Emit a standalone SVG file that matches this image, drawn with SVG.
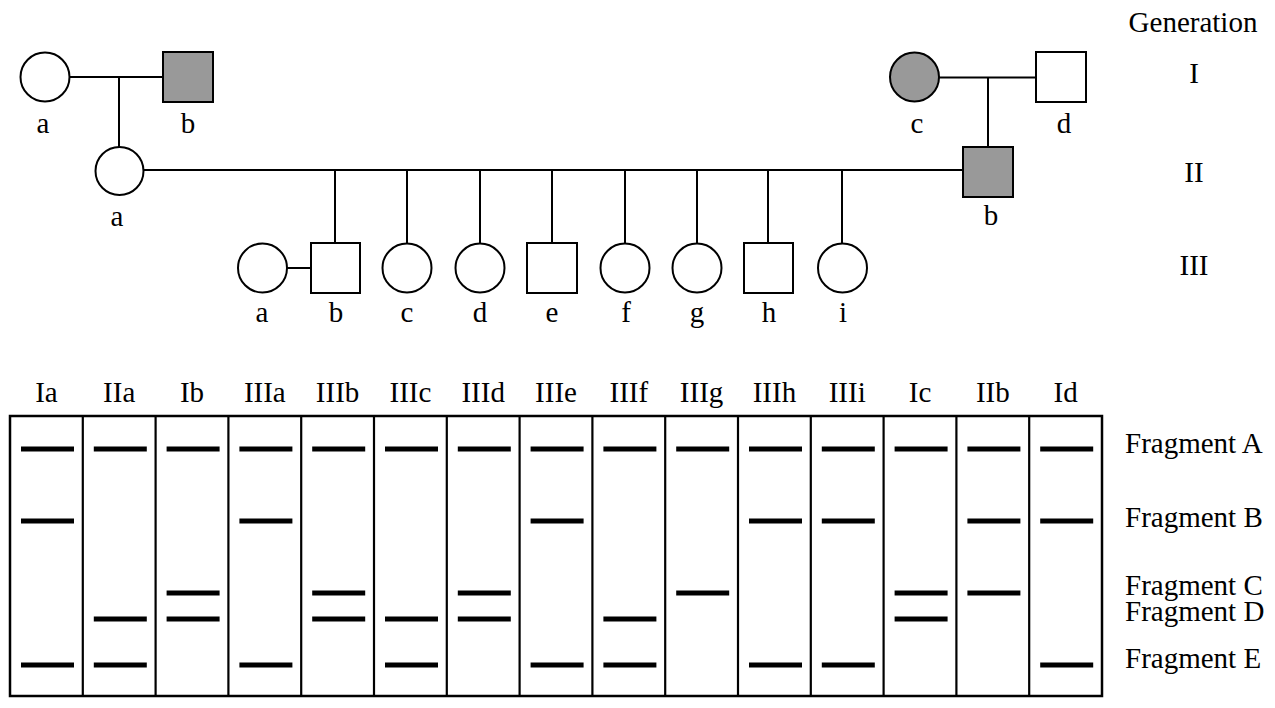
<svg xmlns="http://www.w3.org/2000/svg" width="1275" height="708" viewBox="0 0 1275 708">
<style>
text{font-family:"Liberation Serif","Times New Roman",serif;font-size:29px;fill:#000;text-anchor:middle}
.lbl{text-anchor:start}
.ind{stroke:#000;stroke-width:2;fill:#fff}
.aff{fill:#999}
.con line{stroke:#000;stroke-width:2}
.gel{fill:none;stroke:#000;stroke-width:2.5}
.div{stroke:#000;stroke-width:2.2}
.band{stroke:#000;stroke-width:5}
</style>
<rect width="1275" height="708" fill="#fff"/>
<g class="con" id="connectors">
<line x1="69" y1="77" x2="163" y2="77"/>
<line x1="119" y1="77" x2="119" y2="147"/>
<line x1="939" y1="77.5" x2="1036" y2="77.5"/>
<line x1="988" y1="77.5" x2="988" y2="147"/>
<line x1="143" y1="170" x2="963" y2="170"/>
<line x1="335" y1="170" x2="335" y2="243"/>
<line x1="407" y1="170" x2="407" y2="243"/>
<line x1="480" y1="170" x2="480" y2="243"/>
<line x1="552" y1="170" x2="552" y2="243"/>
<line x1="625" y1="170" x2="625" y2="243"/>
<line x1="697" y1="170" x2="697" y2="243"/>
<line x1="768" y1="170" x2="768" y2="243"/>
<line x1="842" y1="170" x2="842" y2="243"/>
<line x1="287" y1="268" x2="311" y2="268"/>
</g>
<g id="Ia"><circle class="ind" cx="45" cy="77" r="24.5"/><text x="43" y="133">a</text></g>
<g id="Ib"><rect class="ind aff" x="163" y="52" width="50" height="50"/><text x="188" y="133">b</text></g>
<g id="Ic"><circle class="ind aff" cx="914.5" cy="77" r="24.5"/><text x="917" y="133">c</text></g>
<g id="Id"><rect class="ind" x="1036" y="52" width="50" height="50"/><text x="1064" y="133">d</text></g>
<g id="IIa"><circle class="ind" cx="119.5" cy="171" r="24"/><text x="117" y="226">a</text></g>
<g id="IIb"><rect class="ind aff" x="963" y="147" width="50" height="50"/><text x="991" y="225">b</text></g>
<g id="IIIa"><circle class="ind" cx="262.5" cy="268" r="24.5"/><text x="262" y="322">a</text></g>
<g id="IIIb"><rect class="ind" x="311" y="243" width="49" height="50"/><text x="336" y="322">b</text></g>
<g id="IIIc"><circle class="ind" cx="407" cy="268" r="24.5"/><text x="407" y="322">c</text></g>
<g id="IIId"><circle class="ind" cx="480" cy="268" r="24.5"/><text x="480" y="322">d</text></g>
<g id="IIIe"><rect class="ind" x="527" y="243" width="50" height="50"/><text x="552" y="322">e</text></g>
<g id="IIIf"><circle class="ind" cx="625" cy="268" r="24.5"/><text x="626" y="322">f</text></g>
<g id="IIIg"><circle class="ind" cx="697" cy="268" r="24.5"/><text x="697" y="322">g</text></g>
<g id="IIIh"><rect class="ind" x="744" y="243" width="49" height="50"/><text x="769" y="322">h</text></g>
<g id="IIIi"><circle class="ind" cx="842.5" cy="268" r="24.5"/><text x="843" y="322">i</text></g>
<g id="generations">
<text x="1193" y="32">Generation</text>
<text x="1194" y="83">I</text>
<text x="1194" y="182">II</text>
<text x="1194" y="275">III</text>
</g>
<g id="lane-labels">
<text x="46.4" y="402">Ia</text>
<text x="119.2" y="402">IIa</text>
<text x="192" y="402">Ib</text>
<text x="264.8" y="402">IIIa</text>
<text x="337.6" y="402">IIIb</text>
<text x="410.4" y="402">IIIc</text>
<text x="483.2" y="402">IIId</text>
<text x="556" y="402">IIIe</text>
<text x="628.8" y="402">IIIf</text>
<text x="701.6" y="402">IIIg</text>
<text x="774.4" y="402">IIIh</text>
<text x="847.2" y="402">IIIi</text>
<text x="920" y="402">Ic</text>
<text x="992.8" y="402">IIb</text>
<text x="1065.6" y="402">Id</text>
</g>
<g id="gel">
<rect class="gel" x="10" y="416" width="1092" height="280"/>
<g class="div">
<line x1="82.8" y1="416" x2="82.8" y2="696"/>
<line x1="155.6" y1="416" x2="155.6" y2="696"/>
<line x1="228.4" y1="416" x2="228.4" y2="696"/>
<line x1="301.2" y1="416" x2="301.2" y2="696"/>
<line x1="374" y1="416" x2="374" y2="696"/>
<line x1="446.8" y1="416" x2="446.8" y2="696"/>
<line x1="519.6" y1="416" x2="519.6" y2="696"/>
<line x1="592.4" y1="416" x2="592.4" y2="696"/>
<line x1="665.2" y1="416" x2="665.2" y2="696"/>
<line x1="738" y1="416" x2="738" y2="696"/>
<line x1="810.8" y1="416" x2="810.8" y2="696"/>
<line x1="883.6" y1="416" x2="883.6" y2="696"/>
<line x1="956.4" y1="416" x2="956.4" y2="696"/>
<line x1="1029.2" y1="416" x2="1029.2" y2="696"/>
</g>
<g class="band" id="bandsA">
<line x1="21" y1="449" x2="74" y2="449"/>
<line x1="93.8" y1="449" x2="146.8" y2="449"/>
<line x1="166.6" y1="449" x2="219.6" y2="449"/>
<line x1="239.4" y1="449" x2="292.4" y2="449"/>
<line x1="312.2" y1="449" x2="365.2" y2="449"/>
<line x1="385" y1="449" x2="438" y2="449"/>
<line x1="457.8" y1="449" x2="510.8" y2="449"/>
<line x1="530.6" y1="449" x2="583.6" y2="449"/>
<line x1="603.4" y1="449" x2="656.4" y2="449"/>
<line x1="676.2" y1="449" x2="729.2" y2="449"/>
<line x1="749" y1="449" x2="802" y2="449"/>
<line x1="821.8" y1="449" x2="874.8" y2="449"/>
<line x1="894.6" y1="449" x2="947.6" y2="449"/>
<line x1="967.4" y1="449" x2="1020.4" y2="449"/>
<line x1="1040.2" y1="449" x2="1093.2" y2="449"/>
</g>
<g class="band" id="bandsB">
<line x1="21" y1="521" x2="74" y2="521"/>
<line x1="239.4" y1="521" x2="292.4" y2="521"/>
<line x1="530.6" y1="521" x2="583.6" y2="521"/>
<line x1="749" y1="521" x2="802" y2="521"/>
<line x1="821.8" y1="521" x2="874.8" y2="521"/>
<line x1="967.4" y1="521" x2="1020.4" y2="521"/>
<line x1="1040.2" y1="521" x2="1093.2" y2="521"/>
</g>
<g class="band" id="bandsC">
<line x1="166.6" y1="593" x2="219.6" y2="593"/>
<line x1="312.2" y1="593" x2="365.2" y2="593"/>
<line x1="457.8" y1="593" x2="510.8" y2="593"/>
<line x1="676.2" y1="593" x2="729.2" y2="593"/>
<line x1="894.6" y1="593" x2="947.6" y2="593"/>
<line x1="967.4" y1="593" x2="1020.4" y2="593"/>
</g>
<g class="band" id="bandsD">
<line x1="93.8" y1="619" x2="146.8" y2="619"/>
<line x1="166.6" y1="619" x2="219.6" y2="619"/>
<line x1="312.2" y1="619" x2="365.2" y2="619"/>
<line x1="385" y1="619" x2="438" y2="619"/>
<line x1="457.8" y1="619" x2="510.8" y2="619"/>
<line x1="603.4" y1="619" x2="656.4" y2="619"/>
<line x1="894.6" y1="619" x2="947.6" y2="619"/>
</g>
<g class="band" id="bandsE">
<line x1="21" y1="665" x2="74" y2="665"/>
<line x1="93.8" y1="665" x2="146.8" y2="665"/>
<line x1="239.4" y1="665" x2="292.4" y2="665"/>
<line x1="385" y1="665" x2="438" y2="665"/>
<line x1="530.6" y1="665" x2="583.6" y2="665"/>
<line x1="603.4" y1="665" x2="656.4" y2="665"/>
<line x1="749" y1="665" x2="802" y2="665"/>
<line x1="821.8" y1="665" x2="874.8" y2="665"/>
<line x1="1040.2" y1="665" x2="1093.2" y2="665"/>
</g>
</g>
<g id="fragment-labels">
<text class="lbl" x="1125" y="453">Fragment A</text>
<text class="lbl" x="1125" y="527">Fragment B</text>
<text class="lbl" x="1125" y="595">Fragment C</text>
<text class="lbl" x="1125" y="621">Fragment D</text>
<text class="lbl" x="1125" y="668">Fragment E</text>
</g>
</svg>
